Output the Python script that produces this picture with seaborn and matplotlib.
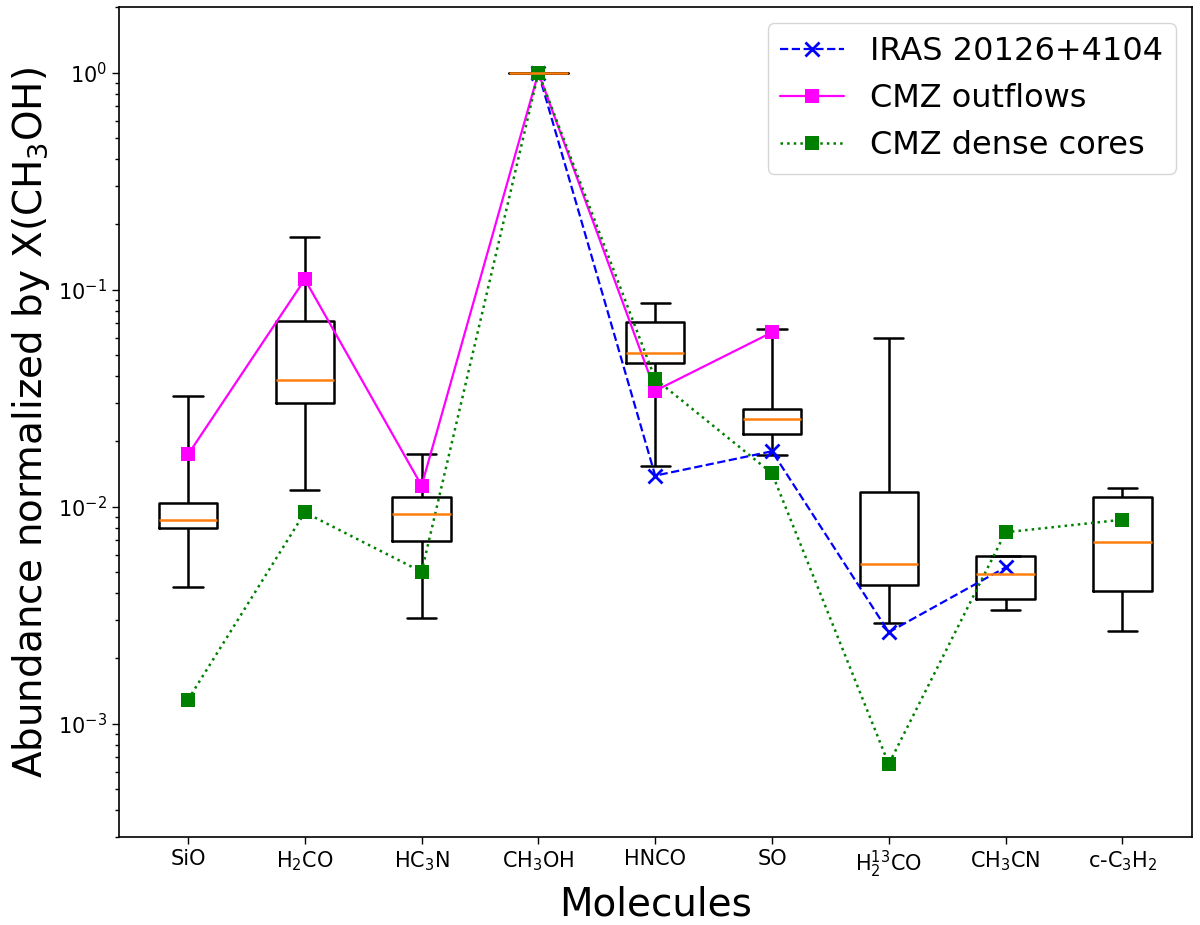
import numpy as np
import pandas as pd
import matplotlib
matplotlib.use("Agg")
import matplotlib.pyplot as plt
import seaborn as sns

# molecules along the x axis
molecules = ["SiO", "H$_2$CO", "HC$_3$N", "CH$_3$OH", "HNCO", "SO",
             "H$_2^{13}$CO", "CH$_3$CN", "c-C$_3$H$_2$"]

# box statistics per molecule (min, q1, median, q3, max), normalized by X(CH3OH)
box_min = [0.00428, 0.0120, 0.00308, 1.0, 0.0154, 0.0173, 0.00290, 0.00335, 0.00266]
box_q1 = [0.00800, 0.0299, 0.00692, 1.0, 0.0457, 0.0217, 0.00437, 0.00374, 0.00409]
box_med = [0.00868, 0.0384, 0.00925, 1.0, 0.0509, 0.0254, 0.00546, 0.00490, 0.00688]
box_q3 = [0.01035, 0.0714, 0.01104, 1.0, 0.0710, 0.0281, 0.0117, 0.00593, 0.0111]
box_max = [0.0325, 0.175, 0.0174, 1.0, 0.0871, 0.0656, 0.0597, 0.00593, 0.01214]

# comparison sources
iras_mol = ["CH$_3$OH", "HNCO", "SO", "H$_2^{13}$CO", "CH$_3$CN"]
iras_val = [1.0, 0.0139, 0.0180, 0.00264, 0.00525]

outflow_mol = ["SiO", "H$_2$CO", "HC$_3$N", "CH$_3$OH", "HNCO", "SO"]
outflow_val = [0.0174, 0.1116, 0.0125, 1.0, 0.0342, 0.0636]

dense_mol = molecules
dense_val = [0.00129, 0.00941, 0.00501, 1.0, 0.0388, 0.01425, 0.000652, 0.00762, 0.00871]

sns.set_style("ticks")
plt.rcParams["font.family"] = ["DejaVu Sans"]
plt.rcParams.update({"text.color": "black", "axes.labelcolor": "black",
                     "xtick.color": "black", "ytick.color": "black",
                     "axes.edgecolor": "black"})

rows = []
for i, m in enumerate(molecules):
    for v in (box_min[i], box_q1[i], box_med[i], box_q3[i], box_max[i]):
        rows.append({"molecule": m, "value": v})
df = pd.DataFrame(rows)

fig = plt.figure(figsize=(12, 9.25), dpi=100)
ax = fig.add_axes([0.099, 0.095, 0.894, 0.897])

sns.boxplot(data=df, x="molecule", y="value", order=molecules, ax=ax,
            whis=(0, 100), width=0.5, fill=False, color="black",
            linewidth=1.8, log_scale=True, showfliers=False,
            medianprops={"color": "#ff7f0e", "linewidth": 1.8, "zorder": 5})


def pos(names):
    return [molecules.index(n) for n in names]


sns.lineplot(x=pos(iras_mol), y=iras_val, ax=ax, color="blue", linestyle="--",
             marker="x", markersize=10, markeredgewidth=2,
             markeredgecolor="blue", linewidth=1.6,
             sort=False, errorbar=None, label="IRAS 20126+4104")
sns.lineplot(x=pos(outflow_mol), y=outflow_val, ax=ax, color="magenta",
             linestyle="-", marker="s", markersize=10, markeredgewidth=0,
             linewidth=1.6, sort=False, errorbar=None, label="CMZ outflows")
sns.lineplot(x=pos(dense_mol), y=dense_val, ax=ax, color="green",
             linestyle=":", marker="s", markersize=10, markeredgewidth=0,
             linewidth=1.8, sort=False, errorbar=None, label="CMZ dense cores")

ax.set_yscale("log")
ax.set_ylim(3e-4, 2.0)
ax.set_xlim(-0.593, 8.593)
ax.set_xticks(range(len(molecules)))
ax.set_xticklabels(molecules)
ax.tick_params(axis="both", which="major", labelsize=15, length=5, width=1)
ax.tick_params(axis="y", which="minor", length=3, width=1)
ax.set_xlabel("Molecules", fontsize=28)
ax.set_ylabel("Abundance normalized by X(CH$_3$OH)", fontsize=28)
for s in ax.spines.values():
    s.set_visible(True)
    s.set_linewidth(1.2)

ax.legend(loc="upper right", fontsize=23)

fig.savefig("out.png", dpi=100)
